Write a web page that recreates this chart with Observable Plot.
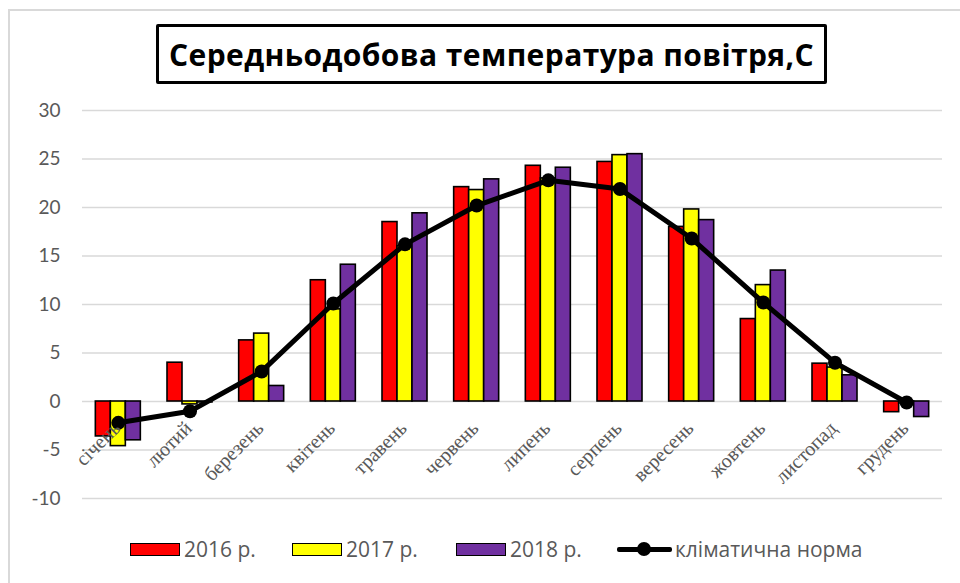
<!DOCTYPE html>
<html>
<head>
<meta charset="utf-8">
<script src="https://cdn.jsdelivr.net/npm/d3@7"></script>
<script src="https://cdn.jsdelivr.net/npm/@observablehq/plot@0.6"></script>
<style>
  html, body { margin: 0; padding: 0; background: #fff; }
  #wrap { position: relative; width: 960px; height: 583px; overflow: hidden; background: #fff; }
  #frame { position: absolute; left: 8px; top: 9px; width: 1000px; height: 620px; border: 2px solid #d9d9d9; box-sizing: border-box; }
  #title { position: absolute; left: 156px; top: 24px; width: 671px; height: 60px; box-sizing: border-box;
           border: 3px solid #000; border-radius: 2px; display: flex; align-items: center; justify-content: center;
           font-family: "Open Sans", Lato, sans-serif; font-weight: 700; font-size: 30px; letter-spacing: 0.4px; color: #000; background: #fff; }
  #chart { position: absolute; left: 0; top: 0; }
  .leg { position: absolute; top: 538px; height: 22px; display: flex; align-items: center;
         font-family: "Open Sans", Lato, sans-serif; font-size: 21px; color: #595959; white-space: nowrap; }
  .sw { width: 50px; height: 13px; border: 1.5px solid #000; box-sizing: border-box; margin-right: 4px; }
  .ln { position: relative; width: 55px; height: 20px; margin-right: 3px; }
  .ln::before { content: ""; position: absolute; left: 0; right: 0; top: 8px; height: 5px; background: #000; border-radius: 2px; }
  .ln::after { content: ""; position: absolute; left: 20px; top: 3px; width: 14px; height: 14px; background: #000; border-radius: 50%; }
</style>
</head>
<body>
<div id="wrap">
  <div id="frame"></div>
  <div id="chart"></div>
  <div id="title">Середньодобова температура повітря,С</div>
  <div class="leg" style="left:130px"><div class="sw" style="background:#ff0000"></div>2016 р.</div>
  <div class="leg" style="left:292px"><div class="sw" style="background:#ffff00"></div>2017 р.</div>
  <div class="leg" style="left:456px"><div class="sw" style="background:#7030a0"></div>2018 р.</div>
  <div class="leg" style="left:617px"><div class="ln"></div>кліматична норма</div>
</div>
<script>
const months = ["січень","лютий","березень","квітень","травень","червень","липень","серпень","вересень","жовтень","листопад","грудень"];
const y2016 = [-3.6, 4.0, 6.3, 12.5, 18.5, 22.1, 24.3, 24.7, 18.0, 8.5, 3.9, -1.1];
const y2017 = [-4.6, -0.3, 7.0, 9.5, 16.0, 21.8, 23.0, 25.4, 19.8, 12.0, 3.5, -0.2];
const y2018 = [-4.0, -0.1, 1.6, 14.1, 19.4, 22.9, 24.1, 25.5, 18.7, 13.5, 2.7, -1.6];
const norm  = [-2.2, -1.0, 3.1, 10.1, 16.2, 20.2, 22.8, 21.9, 16.8, 10.2, 4.0, -0.1];
const yTicks = [-10, -5, 0, 5, 10, 15, 20, 25, 30];

const rows = (vals) => months.map((m, i) => ({month: m, value: vals[i]}));
const bw = 860 / 12;       // band width
const barW = 15;           // single bar width
const off = (k) => ({insetLeft: bw / 2 - 1.5 * barW + k * barW, insetRight: bw / 2 + 1.5 * barW - (k + 1) * barW});
const barStyle = {stroke: "#000", strokeWidth: 1.6};

const chart = Plot.plot({
  width: 960,
  height: 520,
  marginLeft: 82,
  marginRight: 18,
  marginTop: 110,
  marginBottom: 22,
  x: {domain: months, padding: 0, round: false, axis: null},
  y: {domain: [-10, 30], axis: null},
  marks: [
    Plot.gridY(yTicks, {stroke: "#d9d9d9", strokeOpacity: 1, strokeWidth: 1.5}),
    Plot.axisY(yTicks, {tickSize: 0, tickPadding: 22, fontSize: 19, fill: "#595959", label: null,
      fontFamily: "Lato, 'Open Sans', sans-serif", tickFormat: d => d}),
    Plot.barY(rows(y2016), {x: "month", y: "value", fill: "#ff0000", ...barStyle, ...off(0)}),
    Plot.barY(rows(y2017), {x: "month", y: "value", fill: "#ffff00", ...barStyle, ...off(1)}),
    Plot.barY(rows(y2018), {x: "month", y: "value", fill: "#7030a0", ...barStyle, ...off(2)}),
    Plot.line(rows(norm), {x: "month", y: "value", stroke: "#000", strokeWidth: 5, strokeLinejoin: "round"}),
    Plot.dot(rows(norm), {x: "month", y: "value", r: 7, fill: "#000"}),
    Plot.text(months, {x: d => d, y: () => 0, text: d => d, rotate: -45, textAnchor: "end", lineAnchor: "bottom",
      dx: 3, dy: 28, fontSize: 20, fill: "#595959", fontFamily: "'Liberation Serif', 'DejaVu Serif', serif"})
  ]
});
document.getElementById("chart").appendChild(chart);
</script>
</body>
</html>
